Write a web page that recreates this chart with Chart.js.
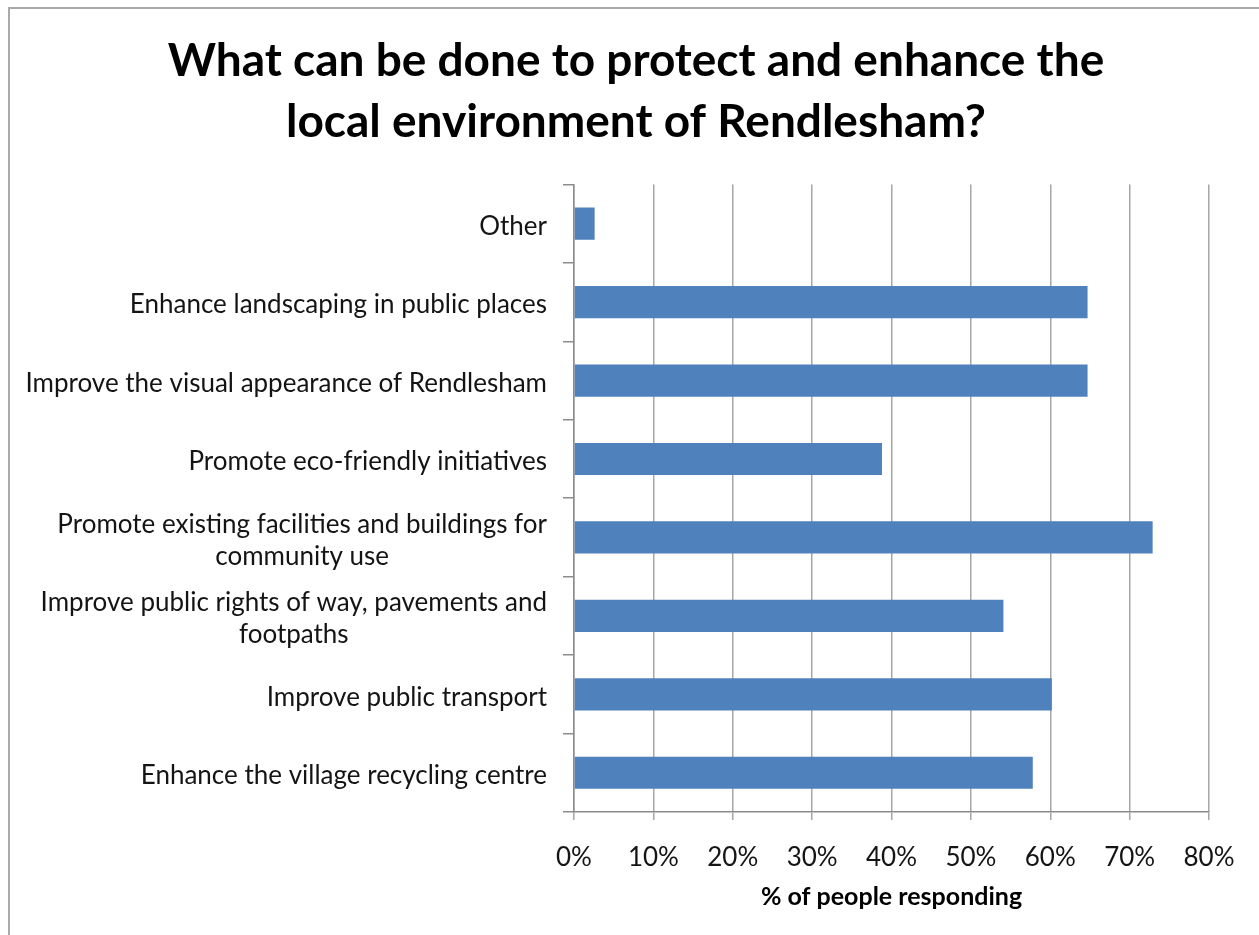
<!DOCTYPE html>
<html>
<head>
<meta charset="utf-8">
<script src="https://cdn.jsdelivr.net/npm/chart.js@4.4.1/dist/chart.umd.min.js"></script>
<style>
  html, body { margin: 0; padding: 0; background: #fff; }
  #wrap { position: relative; width: 1259px; height: 935px; overflow: hidden; }
  #frame {
    position: absolute; left: 8px; top: 7px; right: -10px; bottom: -10px;
    border-top: 2px solid #aaaaaa; border-left: 2px solid #aaaaaa;
  }
  #chart { position: absolute; left: 0; top: 0; }
</style>
</head>
<body>
<div id="wrap">
  <div id="frame"></div>
  <canvas id="chart" width="1259" height="935"></canvas>
</div>
<script>
const titleLines = [
  "What can be done to protect and enhance the",
  "local environment of Rendlesham?",
];

// top to bottom, as listed on the axis
const categories = [
  ["Other"],
  ["Enhance landscaping in public places"],
  ["Improve the visual appearance of Rendlesham"],
  ["Promote eco-friendly initiatives"],
  ["Promote existing facilities and buildings for", "community use"],
  ["Improve public rights of way, pavements and", "footpaths"],
  ["Improve public transport"],
  ["Enhance the village recycling centre"],
];

const percentResponding = [2.6, 64.7, 64.7, 38.8, 72.9, 54.1, 60.2, 57.8];

const xTicks = [0, 10, 20, 30, 40, 50, 60, 70, 80];

const xTitle = "% of people responding";

const barColor = "#4f81bd";
const gridColor = "#a6a6a6";
const axisColor = "#8c8c8c";

// category labels: right edge fixed, wrapped lines centred within the block
const categoryLabels = {
  id: "categoryLabels",
  afterDraw(chart) {
    const ctx = chart.ctx;
    const yScale = chart.scales.y;
    const right = yScale.right - 27;
    const lineGap = 32;
    ctx.save();
    ctx.font = "26px Lato";
    ctx.fillStyle = "#141414";
    ctx.textBaseline = "middle";
    ctx.textAlign = "center";
    categories.forEach((lines, i) => {
      const cy = yScale.getPixelForValue(i) + 3;
      const widest = Math.max(...lines.map((l) => ctx.measureText(l).width));
      const cx = right - widest / 2;
      const startY = cy - ((lines.length - 1) * lineGap) / 2;
      lines.forEach((line, j) => ctx.fillText(line, cx, startY + j * lineGap));
    });
    ctx.restore();
  },
};

function main() {
  const ctx = document.getElementById("chart");

  new Chart(ctx, {
    type: "bar",
    data: {
      labels: categories.map((c) => c.join(" ")),
      datasets: [
        {
          data: percentResponding,
          backgroundColor: barColor,
          borderWidth: 0,
          barPercentage: 0.41,
          categoryPercentage: 1,
        },
      ],
    },
    options: {
      indexAxis: "y",
      responsive: false,
      animation: false,
      layout: { padding: { left: 63, right: 50, top: 0, bottom: 0 } },
      plugins: {
        legend: { display: false },
        tooltip: { enabled: false },
        title: {
          display: true,
          text: titleLines,
          color: "#000",
          font: { family: "Lato", size: 46, weight: "bold", lineHeight: 1.32 },
          padding: { top: 31, bottom: 32 },
        },
      },
      scales: {
        x: {
          type: "linear",
          min: 0,
          max: 80,
          afterFit: (s) => {
            s.height = 123;
          },
          afterBuildTicks: (s) => {
            s.ticks = xTicks.map((v) => ({ value: v }));
          },
          ticks: {
            callback: (v) => v + "%",
            color: "#141414",
            font: { family: "Lato", size: 26 },
            padding: 22,
            maxRotation: 0,
          },
          grid: {
            color: gridColor,
            lineWidth: 1.5,
            tickLength: 8,
          },
          border: { color: axisColor, width: 1.5 },
          title: {
            display: true,
            text: xTitle,
            color: "#000",
            font: { family: "Lato", size: 25, weight: "bold" },
            padding: { top: 10, bottom: 23 },
          },
        },
        y: {
          afterFit: (s) => {
            s.width = 511;
          },
          ticks: { display: false },
          grid: {
            offset: true,
            drawOnChartArea: false,
            drawTicks: true,
            tickLength: 11,
            color: axisColor,
            lineWidth: 1.5,
          },
          border: { color: axisColor, width: 1.5 },
        },
      },
    },
    plugins: [categoryLabels],
  });
}

document.addEventListener("DOMContentLoaded", () => main());
</script>
</body>
</html>
